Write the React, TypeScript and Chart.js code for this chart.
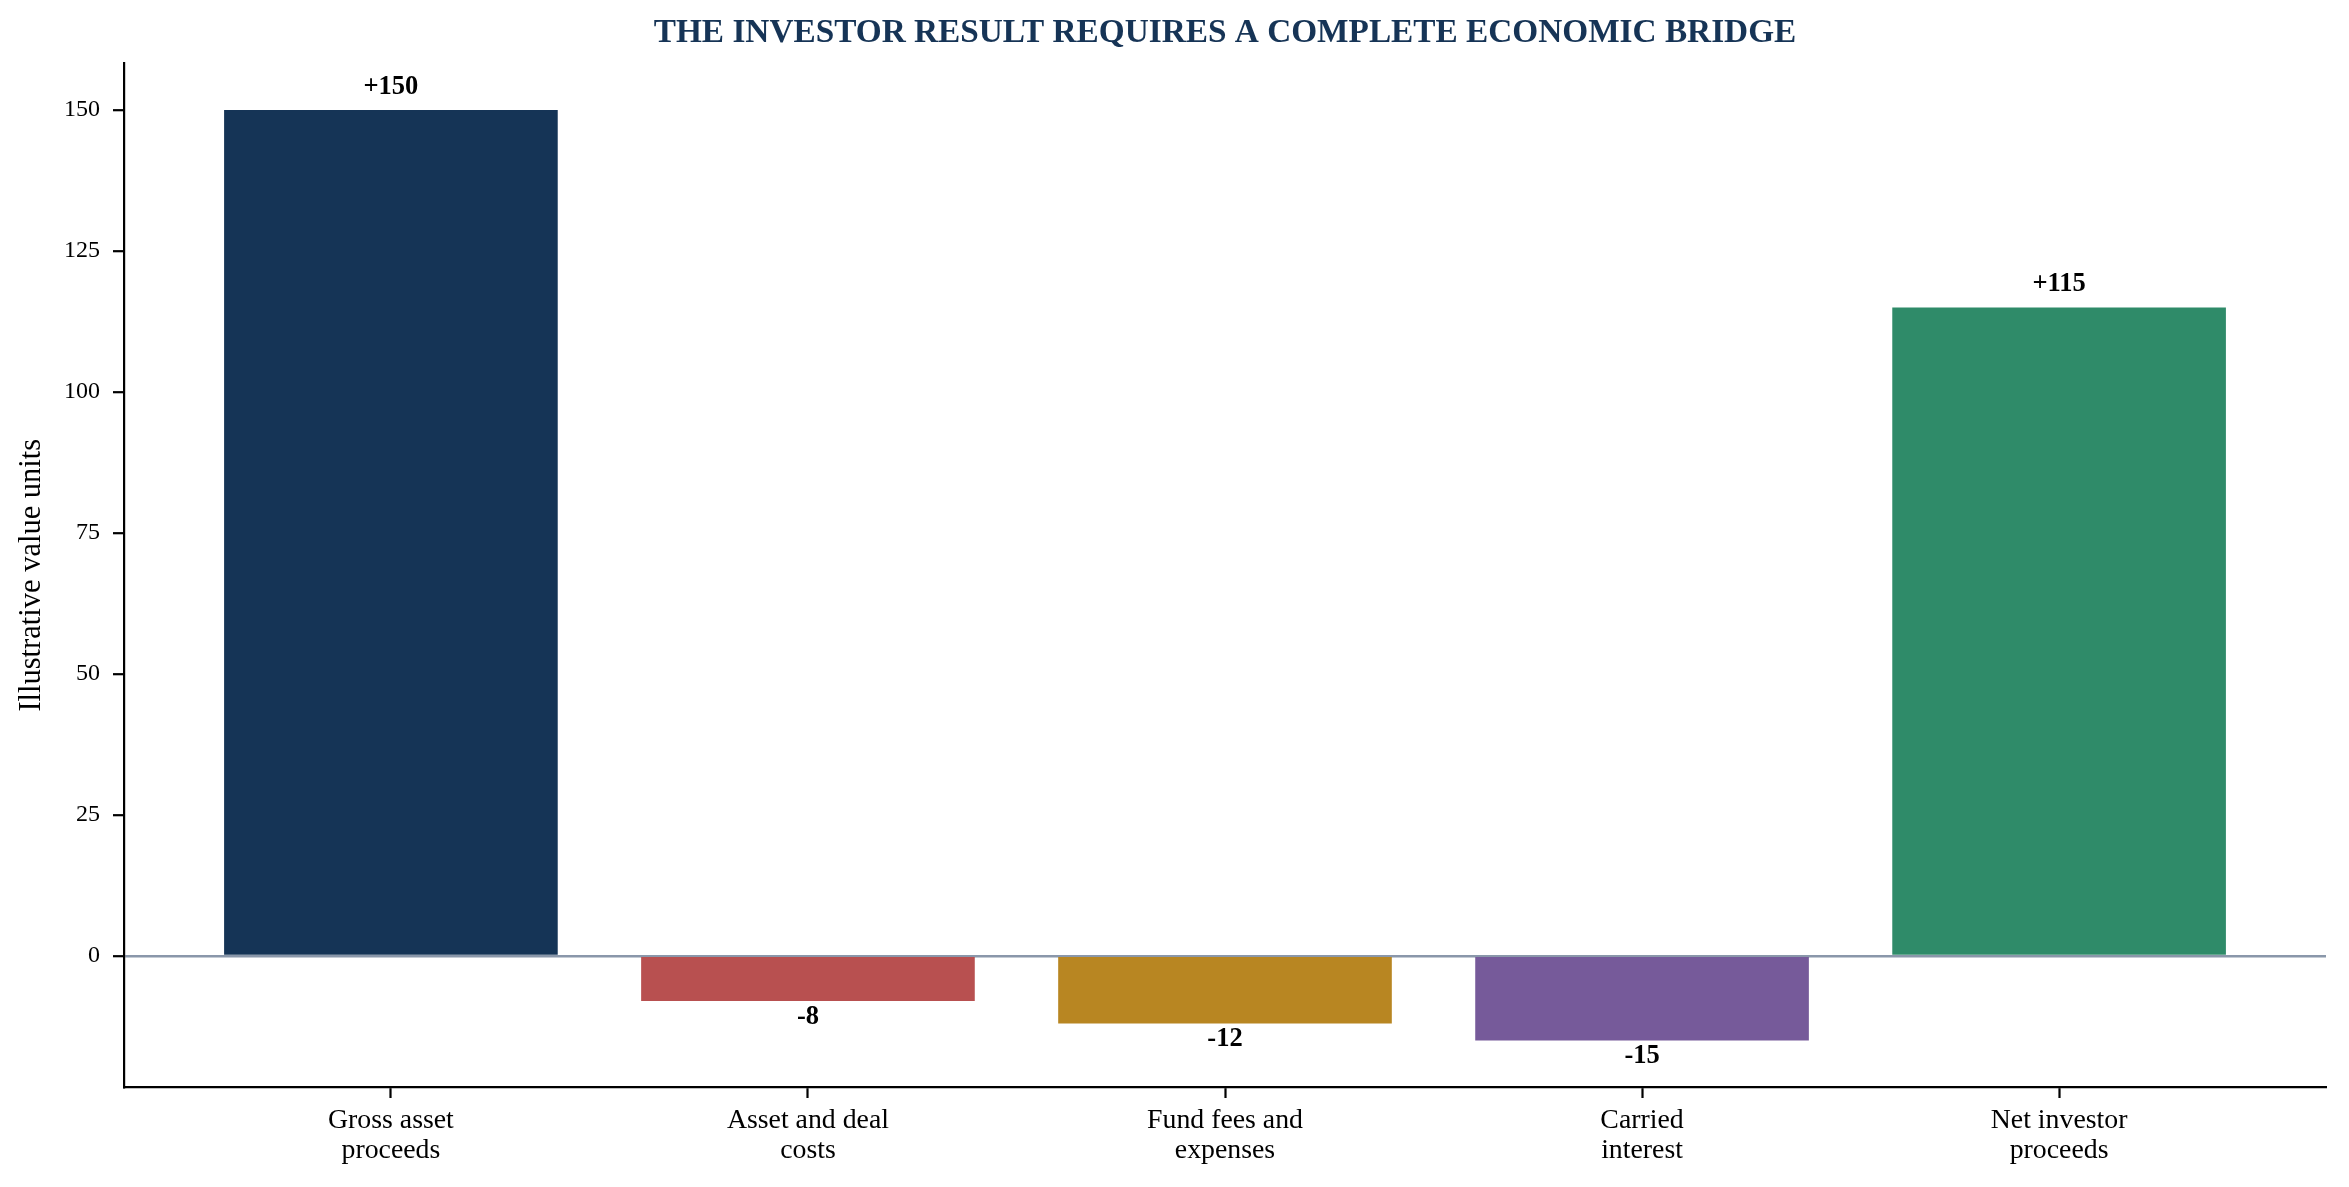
import { useEffect, useRef } from "react";
import { Chart, registerables } from "chart.js";

Chart.register(...registerables);

const categories: string[][] = [
  ["Gross asset", "proceeds"],
  ["Asset and deal", "costs"],
  ["Fund fees and", "expenses"],
  ["Carried", "interest"],
  ["Net investor", "proceeds"],
];
const values = [150, -8, -12, -15, 115];
const barColors = ["#153456", "#B85050", "#B88622", "#765A9A", "#2F8B69"];
const yTicks = [0, 25, 50, 75, 100, 125, 150];
const chartTitle = "THE INVESTOR RESULT REQUIRES A COMPLETE ECONOMIC BRIDGE";

const NAVY = "#163456";
const FONT = "'Liberation Serif', 'Times New Roman', Times, serif";

// title centred over the axes, like matplotlib's ax.set_title
const axesTitle = {
  id: "axesTitle",
  afterDraw(chart: Chart) {
    const { ctx, chartArea } = chart;
    ctx.save();
    ctx.font = `bold 33.3px ${FONT}`;
    ctx.fillStyle = NAVY;
    ctx.textAlign = "center";
    ctx.textBaseline = "middle";
    ctx.fillText(chartTitle, (chartArea.left + chartArea.right) / 2, 33.3);
    ctx.restore();
  },
};

// value labels above / below each bar
const valueLabels = {
  id: "valueLabels",
  afterDatasetsDraw(chart: Chart) {
    const ctx = chart.ctx;
    const meta = chart.getDatasetMeta(0);
    ctx.save();
    ctx.font = `bold 26.5px ${FONT}`;
    ctx.fillStyle = "#000";
    ctx.textAlign = "center";
    ctx.textBaseline = "alphabetic";
    meta.data.forEach((el: any, i: number) => {
      const v = values[i];
      const text = v > 0 ? `+${v}` : `${v}`;
      const y = v >= 0 ? el.y - 16.5 : el.y + 22.5;
      ctx.fillText(text, el.x, y);
    });
    ctx.restore();
  },
};

export default function App() {
  const chartRef = useRef<HTMLCanvasElement>(null);
  const chartInstance = useRef<Chart | null>(null);

  useEffect(() => {
    if (!chartRef.current) return;
    if (chartInstance.current) chartInstance.current.destroy();
    const ctx = chartRef.current.getContext("2d");
    if (!ctx) return;

    chartInstance.current = new Chart(ctx, {
      type: "bar",
      data: {
        datasets: [
          {
            data: values.map((v, i) => ({ x: i, y: v })),
            backgroundColor: barColors,
            borderWidth: 0,
            barPercentage: 0.8,
            categoryPercentage: 1,
          },
        ],
      },
      options: {
        animation: false,
        responsive: true,
        maintainAspectRatio: false,
        devicePixelRatio: 1,
        layout: { padding: { left: 0, right: 23, top: 63.5, bottom: 0 } },
        plugins: {
          legend: { display: false },
          tooltip: { enabled: false },
          title: { display: false },
        },
        scales: {
          x: {
            type: "linear",
            min: -0.64,
            max: 4.64,
            offset: false,
            afterBuildTicks: (scale: any) => {
              scale.ticks = categories.map((_, i) => ({ value: i }));
            },
            afterFit: (scale: any) => {
              scale.height = 100;
            },
            ticks: {
              autoSkip: false,
              maxRotation: 0,
              color: "#000",
              padding: 7,
              font: { family: FONT, size: 27.8, lineHeight: 1.1 },
              callback: (value: any) => categories[value as number] ?? "",
            },
            grid: {
              offset: false,
              drawOnChartArea: false,
              drawTicks: true,
              tickLength: 11,
              tickWidth: 2.2,
              tickColor: "#000",
            },
            border: { display: true, color: "#000", width: 2.2 },
          },
          y: {
            min: -23.25,
            max: 158.25,
            z: 1,
            afterBuildTicks: (scale: any) => {
              scale.ticks = yTicks.map((v) => ({ value: v }));
            },
            afterFit: (scale: any) => {
              scale.width = 124;
            },
            ticks: {
              color: "#000",
              padding: 13,
              font: { family: FONT, size: 24 },
            },
            grid: {
              drawOnChartArea: true,
              color: (c: any) => (c.tick && c.tick.value === 0 ? "#8A97AA" : "rgba(0,0,0,0)"),
              lineWidth: 2.4,
              tickColor: "#000",
              tickLength: 11,
              tickWidth: 2.2,
            },
            border: { display: true, color: "#000", width: 2.2 },
            title: {
              display: true,
              text: "Illustrative value units",
              color: "#000",
              font: { family: FONT, size: 30.5, lineHeight: 1.2 },
              padding: { top: 13.7, bottom: 0 },
            },
          },
        },
      },
      plugins: [valueLabels, axesTitle],
    });

    return () => {
      if (chartInstance.current) {
        chartInstance.current.destroy();
        chartInstance.current = null;
      }
    };
  }, []);

  return (
    <div
      style={{
        position: "fixed",
        left: 0,
        top: 0,
        width: 2349,
        height: 1187,
        background: "#fff",
      }}
    >
      <canvas ref={chartRef} />
    </div>
  );
}
